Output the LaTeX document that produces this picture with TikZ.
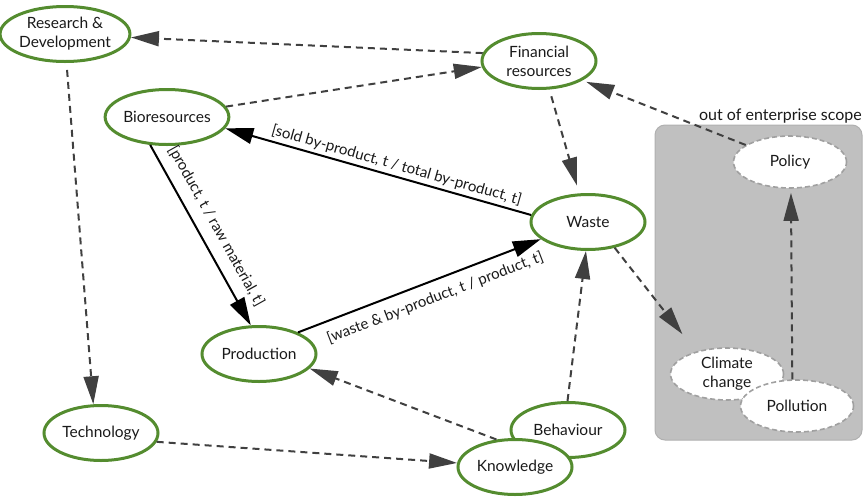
\documentclass[tikz,border=0pt]{standalone}
\usepackage{fontspec}
\setmainfont{Lato}
\usetikzlibrary{shapes.geometric,arrows.meta}
\definecolor{nodegreen}{HTML}{548C2F}
\definecolor{edgegray}{HTML}{404040}
\definecolor{boxgray}{HTML}{C0C0C0}
\definecolor{boxborder}{HTML}{B0B0B0}
\definecolor{outgray}{HTML}{A0A0A0}
\definecolor{txt}{HTML}{1A1A1A}
\tikzset{
  gnode/.style={ellipse, draw=nodegreen, line width=3pt, fill=white, minimum width=114pt, minimum height=55pt, inner sep=0pt, align=center, text=txt, font=\fontsize{15.5}{19}\selectfont},
  onode/.style={ellipse, draw=outgray, dash pattern=on 5pt off 3pt, line width=1.6pt, fill=white, minimum width=113pt, minimum height=52pt, inner sep=0pt, align=center, text=txt, font=\fontsize{15.5}{19}\selectfont},
  dedge/.style={draw=edgegray, line width=2pt, dash pattern=on 7pt off 5pt, -{Triangle[length=28pt,width=15pt,fill=edgegray]}},
  sedge/.style={draw=black, line width=2pt, -{Triangle[length=28pt,width=16pt,fill=black]}},
  elabel/.style={sloped, font=\fontsize{15}{17}\selectfont, text=txt, inner sep=2pt},
}
\begin{document}
\begin{tikzpicture}[x=1pt,y=-1pt]
\useasboundingbox (0,0) rectangle (863,499);
\fill[white] (0,0) rectangle (863,499);
% scope box
\draw[boxborder, fill=boxgray, line width=1pt, rounded corners=10pt] (655,125) rectangle (862,440);
\node[anchor=base east, font=\fontsize{16}{18}\selectfont, text=txt, inner sep=0pt] (scope) at (862,120) {out of enterprise scope};
% nodes
\node[gnode] (rd) at (65,34) {Research \&\\Development};
\node[gnode] (fin) at (539,61) {Financial\\resources};
\node[gnode] (bio) at (167,117) {Bioresources};
\node[gnode] (waste) at (588,222) {Waste};
\node[gnode] (prod) at (259,354) {Production};
\node[gnode] (tech) at (101,433) {Technology};
\node[gnode] (beh) at (568,430) {Behaviour};
\node[gnode] (know) at (515,467) {Knowledge};
\node[onode] (pol) at (790,162) {Policy};
\node[onode] (clim) at (727,374) {Climate\\change};
\node[onode] (poll) at (797,406) {Pollution};
% dashed edges
\draw[dedge] (fin.172) -- (rd.-3);
\draw[dedge] (bio.10) -- (fin.186);
\draw[dedge, shorten <=7pt] (rd.-87) -- (tech.105);
\draw[dedge] (tech.-9) -- (know.176);
\draw[dedge] (know.124) -- (prod.-16);
\draw[dedge] (beh.91) -- (waste.-94);
\draw[dedge, shorten <=7pt, shorten >=8pt] (fin.-70) -- (waste.107);
\draw[dedge, shorten >=22pt] (waste.-44) -- (clim.144);
\draw[dedge, shorten >=4pt] (poll.100) -- (pol.-88);
\draw[dedge, shorten >=4pt] (pol.159) -- (fin.-24);
% solid edges
\draw[sedge] (waste.173) -- node[elabel, above=1pt, pos=0.45] (lsold) {[sold by-product, t / total by-product, t]} (bio.-11);
\draw[sedge] (bio.-121) -- node[elabel, above=8pt, pos=0.5] (lprod) {[product, t / raw material, t]} (prod.106);
\draw[sedge] (prod.29) -- node[elabel, below=7pt, pos=0.54] (lwaste) {[waste \& by-product, t / product, t]} (waste.200);
\end{tikzpicture}
\end{document}
